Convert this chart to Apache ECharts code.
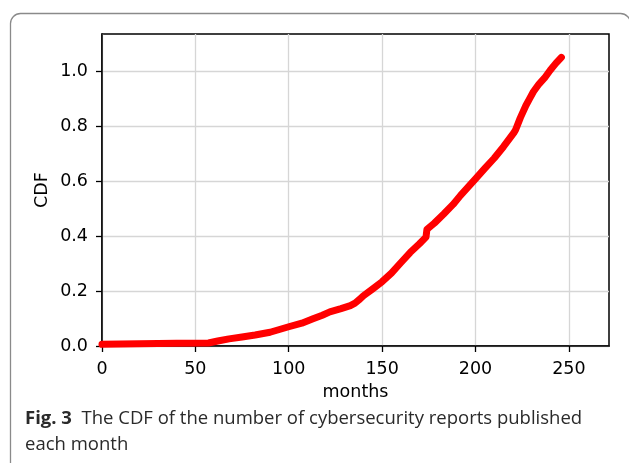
<!DOCTYPE html>
<html>
<head>
<meta charset="utf-8">
<script src="https://cdn.jsdelivr.net/npm/echarts@6/dist/echarts.min.js"></script>
<style>
  html, body { margin: 0; padding: 0; background: #fff; }
  #chart { width: 629px; height: 463px; }
</style>
</head>
<body>
<div id="chart"></div>
<script>
// Month index and cumulative share of cybersecurity reports
const months = [0, 20, 40, 57, 62, 68, 75, 82, 90, 95, 100, 107, 113, 118, 122, 128, 133, 135.5, 138, 140, 145,
  150, 155, 160, 165, 170, 173.5, 174, 178, 183, 188, 192, 196, 200, 205, 210, 215, 220.5, 221.5,
  224, 227, 229, 231, 234, 237, 240, 243, 246];
const cdf = [0.006, 0.008, 0.010, 0.011, 0.018, 0.026, 0.033, 0.040, 0.050, 0.060, 0.070, 0.083, 0.099, 0.112, 0.124, 0.136, 0.147, 0.156, 0.170, 0.183, 0.208,
  0.234, 0.265, 0.303, 0.340, 0.372, 0.396, 0.424, 0.447, 0.480, 0.515, 0.548, 0.578, 0.608, 0.646, 0.683, 0.725, 0.775, 0.787,
  0.830, 0.875, 0.900, 0.925, 0.953, 0.975, 1.003, 1.028, 1.050];

const xTicks = [0, 50, 100, 150, 200, 250];
const yTicks = [0.0, 0.2, 0.4, 0.6, 0.8, 1.0];

const X_MAX = 271.5;
const Y_MAX = 1.135;

const points = months.map((m, i) => [m, cdf[i]]);

const tickFont = { fontFamily: 'DejaVu Sans', fontSize: 17.5, color: '#000' };

const chart = echarts.init(document.getElementById('chart'), null, { renderer: 'canvas' });
chart.setOption({
  animation: false,
  backgroundColor: '#fff',
  grid: {
    left: 102, top: 34, width: 507, height: 312,
    show: true, borderColor: '#000', borderWidth: 1.5, backgroundColor: 'transparent'
  },
  xAxis: {
    type: 'value', min: 0, max: X_MAX, interval: 50,
    axisLine: { show: true, lineStyle: { color: '#000', width: 1.5 } },
    axisTick: { show: true, length: 6, lineStyle: { color: '#000', width: 1.3 }, customValues: xTicks },
    axisLabel: Object.assign({ margin: 14, customValues: xTicks, formatter: v => String(v) }, tickFont),
    splitLine: { show: true, lineStyle: { color: '#d6d6d6', width: 1.3 } }
  },
  yAxis: {
    type: 'value', min: 0, max: Y_MAX, interval: 0.2,
    axisLine: { show: true, lineStyle: { color: '#000', width: 1.5 } },
    axisTick: { show: true, length: 6, lineStyle: { color: '#000', width: 1.3 }, customValues: yTicks },
    axisLabel: Object.assign({ margin: 14, customValues: yTicks, formatter: v => v.toFixed(1) }, tickFont),
    splitLine: { show: true, lineStyle: { color: '#d6d6d6', width: 1.3 } }
  },
  series: [{
    type: 'line',
    data: points,
    showSymbol: false,
    smooth: false,
    clip: false,
    lineStyle: { color: '#ff0000', width: 7, cap: 'round', join: 'round' }
  }],
  graphic: [
    {
      type: 'rect', silent: true, z: -1,
      shape: { x: 10.5, y: 13.5, width: 620, height: 520, r: [10, 10, 0, 0] },
      style: { fill: 'none', stroke: '#8a8a8a', lineWidth: 1.3 }
    },
    {
      type: 'text', silent: true,
      x: 355.5, y: 392,
      style: { text: 'months', fontFamily: 'DejaVu Sans', fontSize: 17.5, fill: '#000', align: 'center', verticalAlign: 'middle' }
    },
    {
      type: 'text', silent: true,
      x: 42, y: 190, rotation: Math.PI / 2,
      style: { text: 'CDF', fontFamily: 'DejaVu Sans', fontSize: 17.5, fill: '#000', align: 'center', verticalAlign: 'middle' }
    },
    {
      type: 'text', silent: true,
      x: 25, y: 419,
      style: {
        text: '{b|Fig. 3}  The CDF of the number of cybersecurity reports published',
        fontFamily: 'Open Sans', fontSize: 18.5, fill: '#2a2a2a', verticalAlign: 'middle',
        rich: { b: { fontFamily: 'Open Sans', fontWeight: 'bold', fontSize: 18.5, fill: '#2a2a2a' } }
      }
    },
    {
      type: 'text', silent: true,
      x: 25, y: 445,
      style: { text: 'each month', fontFamily: 'Open Sans', fontSize: 18.5, fill: '#2a2a2a', verticalAlign: 'middle' }
    }
  ]
});
</script>
</body>
</html>
